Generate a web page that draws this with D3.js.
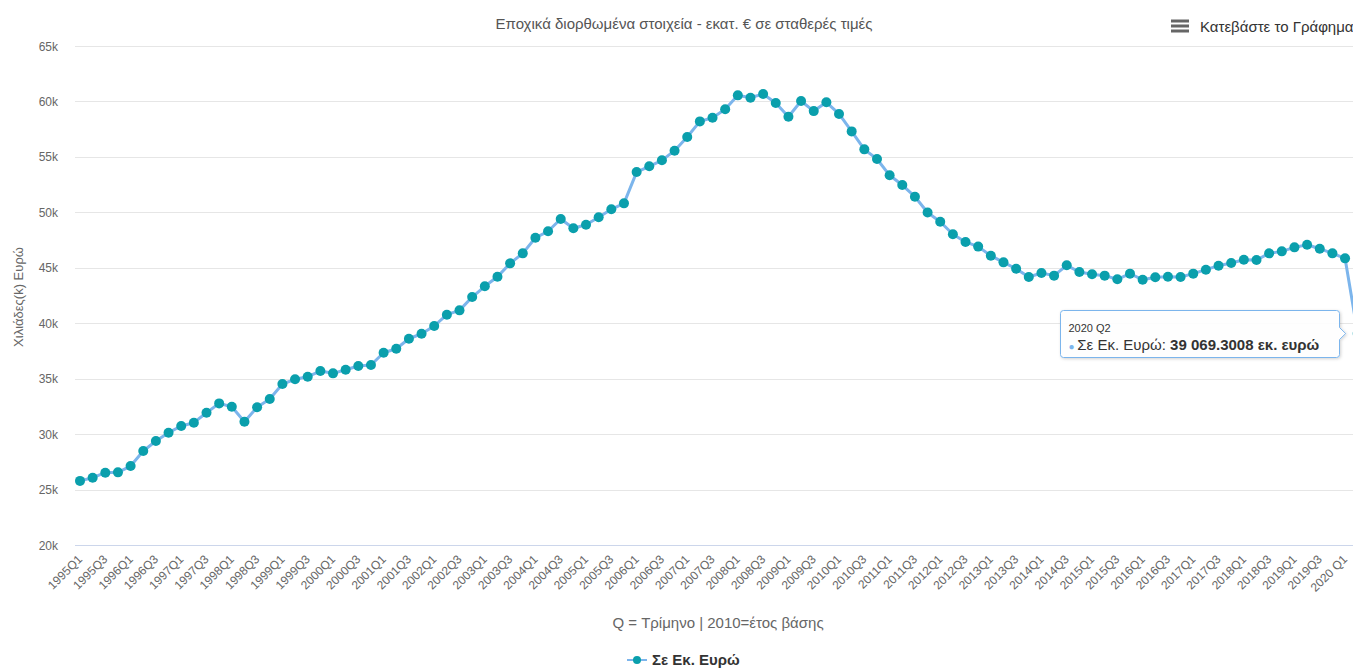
<!DOCTYPE html>
<html lang="el">
<head>
<meta charset="utf-8">
<title>ΑΕΠ ανά τρίμηνο</title>
<style>
 body { margin: 0; background: #fff; }
 svg { font-family: "Liberation Sans", Arial, Helvetica, sans-serif; display: block; }
</style>
</head>
<body>
<div id="chart"></div>
<script src="https://d3js.org/d3.v7.min.js"></script>
<script>
 // quarterly labels 1995Q1 .. 2020 Q2
 var years = d3.range(1995, 2021);
 var quarters = ["Q1", "Q2", "Q3", "Q4"];
 var categories = [];
 years.forEach(function (y) {
   quarters.forEach(function (q) {
     if (y === 2020) { if (q === "Q1" || q === "Q2") categories.push(y + " " + q); }
     else categories.push(y + q);
   });
 });

 // εκατ. ευρώ
 var values = [
   25780, 26070, 26520, 26550, 27120, 28480, 29380, 30130,
   30730, 31030, 31930, 32770, 32470, 31120, 32420, 33160,
   34520, 34940, 35180, 35690, 35480, 35810, 36140, 36230,
   37340, 37700, 38600, 39050, 39750, 40770, 41160, 42360,
   43330, 44190, 45400, 46300, 47710, 48290, 49400, 48560,
   48880, 49550, 50270, 50810, 53630, 54150, 54690, 55560,
   56790, 58200, 58530, 59290, 60550, 60340, 60670, 59860,
   58620, 60040, 59130, 59920, 58870, 57300, 55680, 54810,
   53340, 52460, 51410, 49980, 49150, 48020, 47330, 46910,
   46090, 45490, 44910, 44170, 44530, 44290, 45220, 44620,
   44410, 44290, 43960, 44470, 43920, 44140, 44190, 44170,
   44470, 44830, 45190, 45430, 45730, 45700, 46300, 46480,
   46840, 47080, 46720, 46300, 45850, 39069.3008
 ];
 var yTicks = [20000, 25000, 30000, 35000, 40000, 45000, 50000, 55000, 60000, 65000];

 var titleText = "Εποχικά διορθωμένα στοιχεία - εκατ. € σε σταθερές τιμές";
 var yTitle = "Χιλιάδες(k) Ευρώ";
 var xTitle = "Q = Τρίμηνο | 2010=έτος βάσης";
 var seriesName = "Σε Εκ. Ευρώ";

 var width = 1353, height = 668;
 var lineColor = "#7cb5ec", markerColor = "#0a9fac";

 var svg = d3.select("#chart").append("svg")
             .attr("width", width).attr("height", height);

 var x = d3.scalePoint().domain(categories).range([80, 1357.7]);
 var y = d3.scaleLinear().domain([20000, 65000]).range([545, 46]);

 // grid
 svg.append("g").selectAll("line").data(yTicks.slice(1)).join("line")
    .attr("x1", 75).attr("x2", width)
    .attr("y1", function (d) { return Math.round(y(d)) + 0.5; })
    .attr("y2", function (d) { return Math.round(y(d)) + 0.5; })
    .attr("stroke", "#e6e6e6").attr("stroke-width", 1);
 svg.append("line")
    .attr("x1", 75).attr("x2", width)
    .attr("y1", Math.round(y(20000)) + 0.5).attr("y2", Math.round(y(20000)) + 0.5)
    .attr("stroke", "#ccd6eb");

 // y labels
 svg.append("g").selectAll("text").data(yTicks).join("text")
    .attr("x", 58).attr("y", function (d) { return y(d) + 4.5; })
    .attr("text-anchor", "end").attr("font-size", "12px").attr("fill", "#666")
    .text(function (d) { return (d / 1000) + "k"; });

 // x labels every second quarter
 svg.append("g").selectAll("text")
    .data(categories.filter(function (c, i) { return i % 2 === 0; }))
    .join("text")
    .attr("transform", function (d) { return "translate(" + (x(d) + 3) + ",560) rotate(-45)"; })
    .attr("text-anchor", "end").attr("font-size", "12px").attr("fill", "#666")
    .text(function (d) { return d; });

 // titles
 svg.append("text").attr("x", 684).attr("y", 29).attr("text-anchor", "middle")
    .attr("font-size", "15px").attr("fill", "#555").text(titleText);
 svg.append("text").attr("transform", "translate(23,297) rotate(-90)")
    .attr("text-anchor", "middle").attr("font-size", "13px").attr("fill", "#666").text(yTitle);
 svg.append("text").attr("x", 718).attr("y", 628).attr("text-anchor", "middle")
    .attr("font-size", "15px").attr("fill", "#666").text(xTitle);

 // export menu
 var menu = svg.append("g");
 [21, 26, 31].forEach(function (yy) {
   menu.append("rect").attr("x", 1171).attr("y", yy - 1.5).attr("width", 18).attr("height", 3)
       .attr("fill", "#666");
 });
 menu.append("text").attr("x", 1200).attr("y", 32).attr("font-size", "15px").attr("fill", "#333")
     .text("Κατεβάστε το Γράφημα");

 // series
 var line = d3.line()
              .x(function (d, i) { return x(categories[i]); })
              .y(function (d) { return y(d); });
 svg.append("path").datum(values)
    .attr("d", line).attr("fill", "none")
    .attr("stroke", lineColor).attr("stroke-width", 3)
    .attr("stroke-linejoin", "round");
 svg.append("g").selectAll("circle").data(values).join("circle")
    .attr("cx", function (d, i) { return x(categories[i]); })
    .attr("cy", function (d) { return y(d); })
    .attr("r", 5).attr("fill", markerColor);

 // tooltip on last point
 var last = values.length - 1;
 var px = x(categories[last]), py = y(values[last]);
 var bx = 1060.5, by = 310.5, bw = 279, bh = 47;
 var shadow = svg.append("defs").append("filter").attr("id", "sh")
                 .attr("x", "-10%").attr("y", "-20%").attr("width", "130%").attr("height", "160%");
 shadow.append("feDropShadow").attr("dx", 1).attr("dy", 1).attr("stdDeviation", 1.5)
       .attr("flood-color", "#000").attr("flood-opacity", 0.18);
 var tip = svg.append("g");
 var r = 3;
 var path = "M" + (bx + r) + "," + by +
            "H" + (bx + bw - r) + "Q" + (bx + bw) + "," + by + " " + (bx + bw) + "," + (by + r) +
            "V" + (py - 6) + "L" + (px - 12) + "," + py + "L" + (bx + bw) + "," + (py + 6) +
            "V" + (by + bh - r) + "Q" + (bx + bw) + "," + (by + bh) + " " + (bx + bw - r) + "," + (by + bh) +
            "H" + (bx + r) + "Q" + bx + "," + (by + bh) + " " + bx + "," + (by + bh - r) +
            "V" + (by + r) + "Q" + bx + "," + by + " " + (bx + r) + "," + by + "Z";
 tip.append("path").attr("d", path).attr("fill", "rgba(255,255,255,0.92)")
    .attr("stroke", lineColor).attr("stroke-width", 1).attr("filter", "url(#sh)");
 tip.append("text").attr("x", bx + 8).attr("y", by + 21).attr("font-size", "11px").attr("fill", "#333")
    .text(categories[last]);
 var t2 = tip.append("text").attr("x", bx + 8).attr("y", by + 39).attr("font-size", "15px").attr("fill", "#333");
 t2.append("tspan").attr("fill", lineColor).attr("font-size", "10px").text("● ");
 t2.append("tspan").text(seriesName + ": ");
 t2.append("tspan").attr("font-weight", "bold")
   .text(d3.format(",.4f")(values[last]).replace(/,/g, " ") + " εκ. ευρώ");

 // legend
 var lg = svg.append("g");
 lg.append("line").attr("x1", 627).attr("x2", 647).attr("y1", 660).attr("y2", 660)
   .attr("stroke", lineColor).attr("stroke-width", 2);
 lg.append("circle").attr("cx", 637).attr("cy", 660).attr("r", 4).attr("fill", markerColor);
 lg.append("text").attr("x", 652).attr("y", 665).attr("font-size", "15px")
   .attr("font-weight", "bold").attr("fill", "#333").text(seriesName);
</script>
</body>
</html>
